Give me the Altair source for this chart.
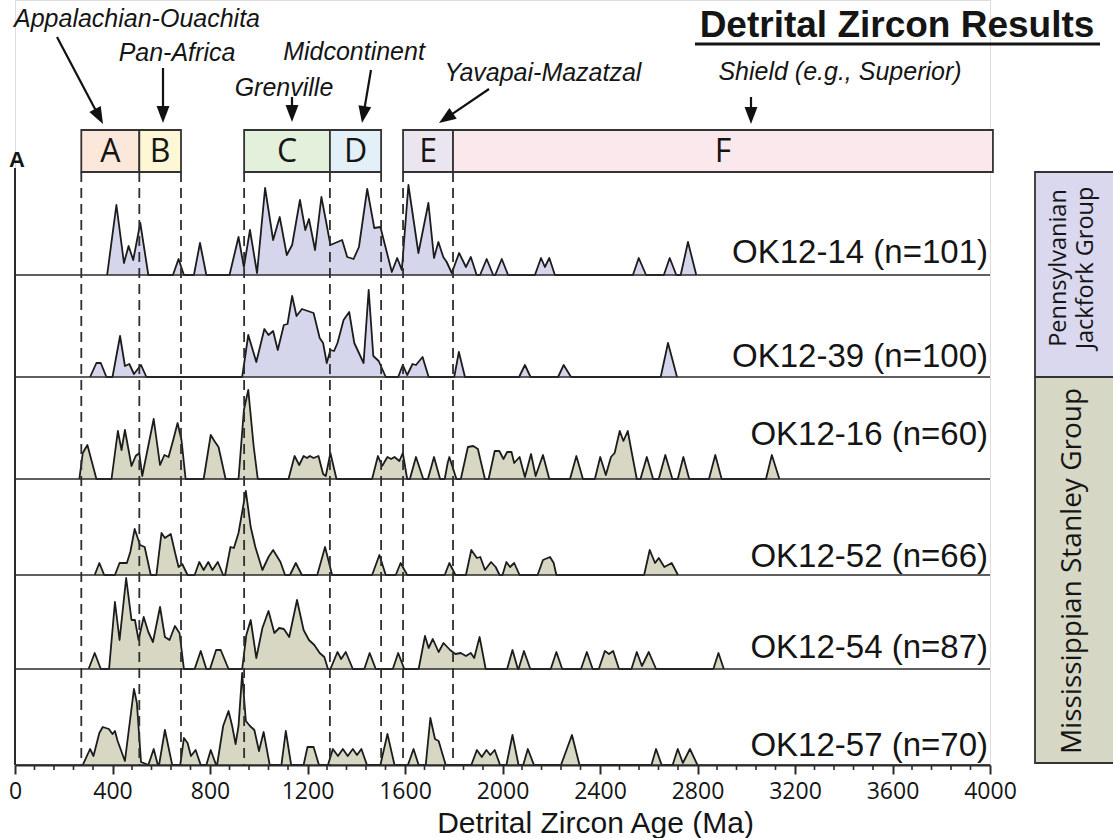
import math
import altair as alt
import pandas as pd

# ------------------------------------------------------------------ data
SAMPLE_NAMES = ["OK12-14 (n=101)", "OK12-39 (n=100)", "OK12-16 (n=60)",
                "OK12-52 (n=66)", "OK12-54 (n=87)", "OK12-57 (n=70)"]
SAMPLE_GROUPS = ["Pennsylvanian", "Pennsylvanian", "Mississippian",
                 "Mississippian", "Mississippian", "Mississippian"]

OK12_14_AGE = [378, 416, 447, 466, 485, 514, 547, 648, 671, 693, 734, 759, 785, 880, 917, 939, 964, 993,
               1026, 1059, 1086, 1115, 1137, 1169, 1191, 1206, 1231, 1257, 1275, 1294, 1342, 1363, 1389,
               1411, 1445, 1474, 1499, 1521, 1546, 1568, 1587, 1614, 1655, 1696, 1719, 1737, 1757, 1771,
               1792, 1822, 1850, 1870, 1894, 1908, 1935, 1962, 1970, 1997, 2023, 2133, 2158, 2174, 2192,
               2215, 2535, 2559, 2589, 2662, 2686, 2713, 2731, 2761, 2795]
OK12_14_PDP = [0, 70, 12, 29, 15, 52, 0, 0, 16, 0, 0, 32, 0, 0, 38, 8, 45, 2,
               87, 35, 58, 20, 30, 75, 45, 56, 25, 78, 55, 30, 35, 18, 16,
               28, 86, 47, 48, 27, 3, 17, 5, 90, 22, 72, 17, 33, 18, 13,
               2, 22, 8, 18, 0, 0, 16, 0, 0, 16, 0, 0, 17, 8, 17,
               0, 0, 17, 0, 0, 17, 0, 0, 33, 0]

OK12_39_AGE = [308, 334, 352, 375, 400, 431, 451, 469, 488, 517, 539, 932, 957, 990, 1023, 1040, 1059,
               1078, 1103, 1118, 1137, 1155, 1177, 1225, 1250, 1264, 1279, 1294, 1309, 1323, 1348, 1371,
               1392, 1411, 1430, 1451, 1470, 1492, 1521, 1572, 1591, 1609, 1631, 1645, 1672, 1697, 1802,
               1821, 1846, 2068, 2092, 2115, 2228, 2251, 2281, 2649, 2679, 2716]
OK12_39_PDP = [0, 14, 14, 0, 0, 41, 11, 13, 3, 12, 0, 0, 42, 15, 48, 42, 46,
               27, 52, 53, 81, 61, 68, 64, 39, 34, 14, 27, 26, 34, 57, 65,
               34, 24, 14, 87, 21, 16, 0, 0, 12, 2, 13, 12, 20, 0, 0,
               25, 0, 0, 12, 0, 0, 12, 0, 0, 34, 0]

OK12_16_AGE = [264, 278, 297, 334, 396, 422, 437, 451, 478, 495, 510, 522, 569, 595, 613, 630, 649, 667,
               683, 700, 774, 803, 818, 835, 864, 917, 939, 957, 979, 996, 1122, 1147, 1166, 1184, 1198,
               1210, 1225, 1245, 1264, 1275, 1294, 1319, 1465, 1489, 1506, 1528, 1543, 1557, 1577, 1591,
               1609, 1620, 1645, 1675, 1694, 1719, 1744, 1763, 1775, 1782, 1811, 1829, 1858, 1880, 1899,
               1928, 1943, 1968, 1987, 2004, 2019, 2037, 2048, 2070, 2092, 2117, 2136, 2166, 2192, 2277,
               2303, 2330, 2379, 2401, 2424, 2445, 2460, 2481, 2496, 2514, 2529, 2551, 2566, 2592, 2618,
               2641, 2668, 2697, 2719, 2742, 2766, 2847, 2873, 2899, 3081, 3105, 3136]
OK12_16_PDP = [0, 26, 34, 0, 0, 48, 29, 49, 13, 23, 26, 3, 60, 14, 24, 22, 39, 56,
               39, 0, 0, 44, 38, 32, 0, 0, 69, 89, 33, 0, 0, 23, 14, 23, 21,
               23, 21, 23, 5, 3, 26, 0, 0, 23, 13, 22, 20, 22, 18, 26,
               0, 0, 22, 0, 0, 22, 0, 0, 16, 22, 0, 0, 32, 33, 30,
               0, 0, 28, 28, 20, 27, 27, 16, 22, 2, 25, 3, 24, 0, 0,
               23, 0, 0, 22, 4, 22, 26, 48, 38, 48, 28, 0, 0, 22, 0,
               0, 24, 0, 0, 22, 0, 0, 24, 0, 0, 24, 0]

OK12_52_AGE = [327, 346, 366, 410, 429, 459, 473, 491, 513, 532, 557, 580, 601, 615, 639, 656, 671, 686,
               708, 737, 756, 774, 793, 810, 832, 854, 862, 884, 898, 917, 947, 967, 986, 1015, 1040,
               1059, 1089, 1108, 1128, 1152, 1177, 1240, 1272, 1301, 1465, 1495, 1521, 1562, 1582, 1609,
               1763, 1782, 1807, 1850, 1872, 1895, 1909, 1928, 1953, 1972, 1988, 2000, 2016, 2031, 2048,
               2070, 2144, 2166, 2195, 2210, 2221, 2581, 2604, 2626, 2641, 2664, 2694, 2720]
OK12_52_PDP = [0, 12, 0, 0, 12, 12, 23, 46, 30, 28, 0, 0, 42, 37, 41, 23, 8, 11,
               0, 0, 13, 5, 13, 5, 13, 0, 0, 28, 27, 42, 84, 48, 28, 5, 18,
               25, 13, 0, 0, 12, 0, 0, 28, 0, 0, 20, 0, 0, 12, 0,
               0, 12, 0, 0, 25, 17, 18, 5, 13, 8, 0, 0, 13, 8, 12,
               0, 0, 15, 18, 12, 0, 0, 25, 12, 17, 8, 12, 0]

OK12_54_AGE = [302, 327, 352, 386, 410, 429, 456, 478, 492, 507, 528, 547, 566, 595, 615, 634, 656, 675,
               683, 693, 737, 762, 785, 800, 825, 844, 876, 932, 949, 967, 990, 1015, 1040, 1064, 1084,
               1103, 1125, 1157, 1184, 1206, 1228, 1250, 1269, 1284, 1294, 1323, 1338, 1357, 1386, 1433,
               1455, 1480, 1550, 1572, 1597, 1656, 1682, 1697, 1714, 1738, 1758, 1785, 1807, 1829, 1850,
               1870, 1884, 1906, 1931, 2019, 2041, 2063, 2066, 2088, 2114, 2198, 2221, 2245, 2322, 2346,
               2370, 2395, 2420, 2437, 2454, 2478, 2529, 2551, 2572, 2600, 2630, 2865, 2886, 2908]
OK12_54_PDP = [0, 16, 0, 0, 67, 29, 91, 49, 49, 29, 52, 37, 27, 62, 32, 29, 43, 36,
               20, 0, 0, 18, 0, 0, 19, 19, 0, 0, 34, 49, 11, 41, 58, 36, 41,
               40, 32, 69, 39, 29, 24, 16, 12, 0, 0, 17, 10, 17, 0, 0,
               16, 0, 0, 16, 0, 0, 33, 21, 30, 17, 26, 19, 15, 16, 13,
               16, 11, 32, 0, 0, 19, 0, 0, 18, 0, 0, 17, 0, 0, 17,
               0, 0, 18, 15, 18, 0, 0, 17, 3, 17, 0, 0, 16, 0]

OK12_57_AGE = [278, 308, 322, 346, 360, 385, 400, 410, 421, 451, 488, 500, 517, 547, 569, 586, 591, 615,
               645, 678, 693, 708, 722, 741, 762, 785, 803, 825, 829, 854, 876, 891, 905, 917, 932, 947,
               964, 982, 1001, 1020, 1045, 1093, 1111, 1133, 1184, 1200, 1225, 1247, 1284, 1304, 1325,
               1345, 1365, 1386, 1403, 1421, 1444, 1499, 1528, 1557, 1612, 1635, 1656, 1685, 1704, 1723,
               1738, 1767, 1872, 1895, 1915, 1934, 1950, 1968, 1990, 2016, 2041, 2066, 2085, 2104, 2129,
               2240, 2285, 2316, 2611, 2630, 2653, 2698, 2719, 2740, 2769, 2800]
OK12_57_PDP = [0, 16, 9, 32, 38, 36, 31, 34, 24, 4, 76, 62, 3, 0, 16, 0, 0, 35,
               0, 0, 27, 22, 9, 15, 0, 0, 15, 0, 0, 39, 54, 39, 21, 39, 92, 44,
               39, 35, 14, 33, 0, 0, 34, 0, 0, 18, 18, 0, 0, 16, 9,
               16, 9, 16, 10, 16, 0, 0, 31, 0, 0, 16, 0, 0, 47, 26,
               24, 0, 0, 15, 8, 15, 10, 15, 0, 0, 30, 0, 0, 16, 0,
               0, 30, 0, 0, 16, 0, 0, 16, 2, 16, 0]

SAMPLE_AGES = [OK12_14_AGE, OK12_39_AGE, OK12_16_AGE, OK12_52_AGE, OK12_54_AGE, OK12_57_AGE]
SAMPLE_PDPS = [OK12_14_PDP, OK12_39_PDP, OK12_16_PDP, OK12_52_PDP, OK12_54_PDP, OK12_57_PDP]

PROVINCE_LETTERS = ["A", "B", "C", "D", "E", "F"]
PROVINCE_START = [272, 510, 940, 1292, 1592, 1797]
PROVINCE_END = [510, 681, 1292, 1502, 1797, 4012]
PROVINCE_COLORS = ["#fce8da", "#fdf7d6", "#e2f0dc", "#e3f0f8", "#ebe5f0", "#fbe8ec"]
BOUNDARY_AGES = [272, 510, 681, 940, 1292, 1502, 1592, 1797]

PROVINCE_NAMES = ["Appalachian-Ouachita", "Pan-Africa", "Grenville", "Midcontinent",
                  "Yavapai-Mazatzal", "Shield (e.g., Superior)"]

TICK_MAJOR = [0, 400, 800, 1200, 1600, 2000, 2400, 2800, 3200, 3600, 4000]
TICK_MINOR = [80, 160, 240, 320, 480, 560, 640, 720, 880, 960, 1040, 1120, 1280, 1360, 1440, 1520,
              1680, 1760, 1840, 1920, 2080, 2160, 2240, 2320, 2480, 2560, 2640, 2720, 2880, 2960,
              3040, 3120, 3280, 3360, 3440, 3520, 3680, 3760, 3840, 3920]

# ------------------------------------------------------------------ layout
W, H = 975, 765            # plot area (pixels); x: 0..4000 Ma
PX0, PX1 = 15, 990         # page pixel of 0 Ma and 4000 Ma


def ma(px):
    """page pixel -> age (used for placing annotations only)"""
    return (px - PX0) * 4000.0 / (PX1 - PX0)


BASELINE_Y = [275, 377, 479, 575, 669, 765]
LABEL_Y = [253, 357, 435, 557, 648, 746]
ANNOT_POS = [(137, 19), (177, 53), (284, 88), (354, 52), (543, 73), (840, 72)]
ARROWS = [(57, 37, 103, 124), (163, 68, 163, 123), (292, 97, 292, 122),
          (371, 70, 362, 123), (489, 89, 439, 123), (751, 97, 751, 124)]

TEXT = "#151515"
LINE = "#2a2a2a"

xs = alt.Scale(domain=[0, 4000], nice=False, zero=False)
ys = alt.Scale(domain=[0, H], nice=False, zero=False, reverse=True)
XAX = alt.Axis(values=TICK_MAJOR, format="d", grid=False, labelFlush=False, labelOverlap=False,
               labelFont="Open Sans", labelFontSize=23, labelColor=TEXT, labelPadding=6,
               tickSize=9, tickWidth=2, tickColor=LINE, domainColor=LINE, domainWidth=2,
               titleFont="Liberation Sans", titleFontSize=30, titleFontWeight="normal",
               titleColor=TEXT, titleX=580, titleY=43, titleAlign="center", titleBaseline="top")
XTITLE = "Detrital Zircon Age (Ma)"


def X(f="age"):
    return alt.X(f"{f}:Q", scale=xs, axis=XAX, title=XTITLE)


def Y(f="y"):
    return alt.Y(f"{f}:Q", scale=ys, axis=None)


# ------------------------------------------------------------------ tables
rows = []
for name, grp, base, ages, pdp in zip(SAMPLE_NAMES, SAMPLE_GROUPS, BASELINE_Y, SAMPLE_AGES, SAMPLE_PDPS):
    for a, h in zip(ages, pdp):
        rows.append({"sample": name, "group": grp, "age": a, "y": base - h, "base": base})
curves = pd.DataFrame(rows)

areas = alt.Chart(curves).mark_area(opacity=1).encode(
    x=X(), y=alt.Y("y:Q", scale=ys, axis=None, stack=False), y2=alt.Y2("base"),
    color=alt.Color("group:N", scale=alt.Scale(domain=["Pennsylvanian", "Mississippian"],
                                               range=["#d5d5ec", "#d7d7c3"]), legend=None),
    detail="sample:N")
lines = alt.Chart(curves).mark_line(color="#1c1c1c", strokeWidth=1.8, strokeJoin="round").encode(
    x=X(), y=Y(), detail="sample:N")

base_df = pd.DataFrame({"age": [0] * 6, "age2": [4000] * 6, "y": BASELINE_Y})
baselines = alt.Chart(base_df).mark_rule(color=LINE, strokeWidth=1.7).encode(
    x=X(), x2=alt.X2("age2"), y=Y())

left_df = pd.DataFrame({"age": [0], "y": [168], "y2": [H]})
left_axis = alt.Chart(left_df).mark_rule(color=LINE, strokeWidth=2).encode(
    x=X(), y=Y(), y2=alt.Y2("y2"))

dash_df = pd.DataFrame({"age": BOUNDARY_AGES, "y": [172] * len(BOUNDARY_AGES), "y2": [H] * len(BOUNDARY_AGES)})
dashes = alt.Chart(dash_df).mark_rule(color="#2e2e2e", strokeWidth=1.8, strokeDash=[10, 6]).encode(
    x=X(), y=Y(), y2=alt.Y2("y2"))

minor_df = pd.DataFrame({"age": TICK_MINOR, "y": [H] * len(TICK_MINOR), "y2": [H + 5] * len(TICK_MINOR)})
minor = alt.Chart(minor_df).mark_rule(color=LINE, strokeWidth=1.6).encode(
    x=X(), y=Y(), y2=alt.Y2("y2"))

prov_df = pd.DataFrame({"letter": PROVINCE_LETTERS, "age": PROVINCE_START, "age2": PROVINCE_END,
                        "color": PROVINCE_COLORS, "y": [130] * 6, "y2": [172] * 6})
prov_df["mid"] = (prov_df["age"] + prov_df["age2"]) / 2
prov_df["ty"] = 152
prov_boxes = alt.Chart(prov_df).mark_rect(stroke="#333333", strokeWidth=1.8).encode(
    x=X(), x2=alt.X2("age2"), y=Y(), y2=alt.Y2("y2"), fill=alt.Fill("color:N", scale=None))
prov_text = alt.Chart(prov_df).mark_text(font="Open Sans", fontSize=32, color=TEXT,
                                         baseline="middle", align="center").encode(
    x=X("mid"), y=Y("ty"), text="letter:N")

grp_df = pd.DataFrame({"age": [ma(1035)] * 2, "age2": [ma(1125)] * 2, "y": [172, 377], "y2": [377, 763],
                       "color": ["#d9d8ee", "#d7d7c5"]})
grp_boxes = alt.Chart(grp_df).mark_rect(stroke="#333333", strokeWidth=1.8).encode(
    x=X(), x2=alt.X2("age2"), y=Y(), y2=alt.Y2("y2"), fill=alt.Fill("color:N", scale=None))
grp_text1_df = pd.DataFrame({"age": [ma(1059), ma(1086)], "y": [268, 268],
                             "t": ["Pennsylvanian", "Jackfork Group"]})
grp_text1 = alt.Chart(grp_text1_df).mark_text(font="Open Sans", fontSize=23.5, angle=270, color=TEXT,
                                              baseline="middle", align="center").encode(
    x=X(), y=Y(), text="t:N")
grp_text2_df = pd.DataFrame({"age": [ma(1073)], "y": [571], "t": ["Mississippian Stanley Group"]})
grp_text2 = alt.Chart(grp_text2_df).mark_text(font="Open Sans", fontSize=28, angle=270, color=TEXT,
                                              baseline="middle", align="center").encode(
    x=X(), y=Y(), text="t:N")

lab_df = pd.DataFrame({"age": [ma(988)] * 6, "y": LABEL_Y, "t": SAMPLE_NAMES})
labels = alt.Chart(lab_df).mark_text(font="Liberation Sans", fontSize=33, color=TEXT,
                                     align="right", baseline="middle").encode(
    x=X(), y=Y(), text="t:N")

ann_df = pd.DataFrame({"age": [ma(p[0]) for p in ANNOT_POS], "y": [p[1] for p in ANNOT_POS],
                       "t": PROVINCE_NAMES})
annots = alt.Chart(ann_df).mark_text(font="Liberation Sans", fontSize=25, fontStyle="italic",
                                     color=TEXT, align="center", baseline="middle").encode(
    x=X(), y=Y(), text="t:N")

arr_rows = []
for x1, y1, x2, y2 in ARROWS:
    dx, dy = x2 - x1, y2 - y1
    L = math.hypot(dx, dy)
    ex, ey = x2 - dx / L * 10, y2 - dy / L * 10
    ang = math.degrees(math.atan2(-dx, dy)) % 360
    arr_rows.append({"age": ma(x1), "y": y1, "age2": ma(ex), "y2": ey,
                     "tip": ma(x2), "ty": y2, "ang": ang})
arr_df = pd.DataFrame(arr_rows)
arrow_lines = alt.Chart(arr_df).mark_rule(color="#111111", strokeWidth=2.2).encode(
    x=X(), y=Y(), x2=alt.X2("age2"), y2=alt.Y2("y2"))
ARROW_PATH = "M0,0 L-0.38,-1 L0.38,-1 Z"
arrow_heads = alt.Chart(arr_df).mark_point(shape=ARROW_PATH, filled=True, size=1156, color="#111111",
                                           opacity=1, strokeWidth=0).encode(
    x=X("tip"), y=Y("ty"), angle=alt.Angle("ang:Q", scale=None))

title_df = pd.DataFrame({"age": [ma(897)], "y": [37], "t": ["Detrital Zircon Results"]})
title = alt.Chart(title_df).mark_text(font="Liberation Sans", fontSize=37, fontWeight="bold",
                                      color=TEXT, align="center", baseline="alphabetic").encode(
    x=X(), y=Y(), text="t:N")
uline_df = pd.DataFrame({"age": [ma(695)], "age2": [ma(1100)], "y": [44]})
uline = alt.Chart(uline_df).mark_rule(color=TEXT, strokeWidth=2.8).encode(
    x=X(), x2=alt.X2("age2"), y=Y())

a_df = pd.DataFrame({"age": [ma(17)], "y": [160], "t": ["A"]})
a_label = alt.Chart(a_df).mark_text(font="Liberation Sans", fontSize=22, fontWeight="bold",
                                    color=TEXT, align="center", baseline="middle").encode(
    x=X(), y=Y(), text="t:N")

chart = alt.layer(
    prov_boxes, prov_text, grp_boxes, grp_text1, grp_text2,
    areas, lines, baselines, dashes, left_axis, minor,
    labels, annots, arrow_lines, arrow_heads, title, uline, a_label
).properties(
    width=W, height=H,
    autosize=alt.AutoSizeParams(type="none"),
    padding={"left": PX0, "right": 1113 - PX1, "top": 0, "bottom": 838 - H},
).configure_view(strokeWidth=0).configure(background="white")

chart.save("out.html", embed_options={"renderer": "svg", "actions": False})
